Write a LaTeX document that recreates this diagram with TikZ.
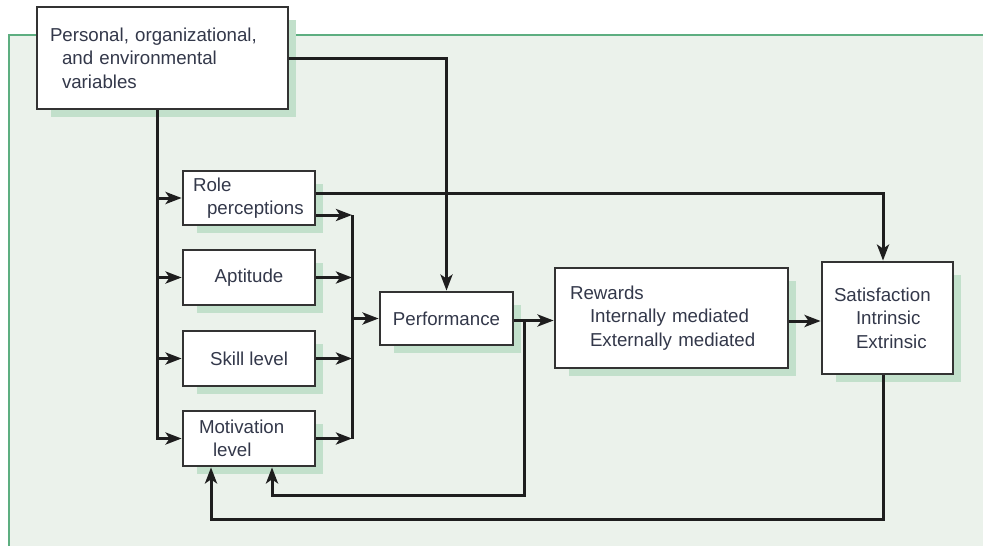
\documentclass[tikz,border=0pt]{standalone}
\usepackage{fontspec}
\setmainfont{Liberation Sans}
\usetikzlibrary{arrows.meta,backgrounds}

\definecolor{panelfill}{HTML}{EBF2EB}
\definecolor{panelline}{HTML}{5DAE80}
\definecolor{shadowc}{HTML}{C2E0CB}
\definecolor{boxline}{HTML}{333333}
\definecolor{wire}{HTML}{1E1E1E}
\definecolor{txt}{HTML}{33384A}

\tikzset{
  blk/.style={draw=boxline, line width=2.8pt, fill=white, inner ysep=0pt,
    text=txt, font=\fontsize{18.7}{23.5}\selectfont},
  leftblk/.style 2 args={blk, minimum width=#1pt, text width=#1pt-2*#2pt,
    inner xsep=#2pt, align=left},
  midblk/.style={blk, inner xsep=0pt, align=center},
  wirel/.style={draw=wire, line width=3pt},
  arr/.style={wirel, -{Stealth[length=16pt,width=12pt,inset=4pt]}},
}

\begin{document}
\begin{tikzpicture}[x=1pt, y=-1pt]
\useasboundingbox (0,0) rectangle (983,546);

% boxes
\node[leftblk={251}{13}, minimum height=102pt] (pv) at (162.5,58)
  {Personal, organizational,\\\hspace*{12pt}and environmental\\\hspace*{12pt}variables};
\node[leftblk={132}{10}, minimum height=54pt] (role) at (249,198)
  {Role\\\hspace*{14pt}perceptions};
\node[midblk, minimum width=132pt, minimum height=55pt] (apt) at (249,277.5) {Aptitude};
\node[midblk, minimum width=132pt, minimum height=55pt] (skill) at (249,358.5) {Skill level};
\node[leftblk={132}{16}, minimum height=55pt] (mot) at (249,438.5)
  {Motivation\\\hspace*{14pt}level};
\node[midblk, minimum width=133pt, minimum height=53pt] (perf) at (446.5,318.5) {Performance};
\node[leftblk={233}{15}, minimum height=100pt] (rew) at (671.5,318)
  {Rewards\\\hspace*{20pt}Internally mediated\\\hspace*{20pt}Externally mediated};
\node[leftblk={131}{12}, minimum height=112pt] (sat) at (887.5,318)
  {Satisfaction\\\hspace*{22pt}Intrinsic\\\hspace*{22pt}Extrinsic};

% routing columns and corners
\coordinate (sx) at (157,0);
\coordinate (cx) at (352,0);
\coordinate (f1) at (524,495);
\coordinate (m1) at (272,495);
\coordinate (f2) at (883,519);
\coordinate (m2) at (211,519);

% background panel and box shadows
\begin{scope}[on background layer]
  \fill[panelfill] (9,35) rectangle (983,546);
  \draw[panelline, line width=2pt] (9,546) -- (9,35) -- (983,35);
  \foreach \n in {pv,role,apt,skill,mot,perf,rew,sat}
    \fill[shadowc] ([shift={(15pt,-7pt)}]\n.south west) rectangle ([shift={(7pt,-14pt)}]\n.north east);
\end{scope}

% variables feed the four determinants
\draw[arr] (pv.south -| sx) |- (mot.west);
\draw[arr] (role.west -| sx) -- (role.west);
\draw[arr] (apt.west -| sx) -- (apt.west);
\draw[arr] (skill.west -| sx) -- (skill.west);

% determinants collect into performance
\draw[wirel] ([yshift=-17pt]role.east -| cx) -- (mot.east -| cx);
\draw[arr] ([yshift=-17pt]role.east) -- ([yshift=-17pt]role.east -| cx);
\draw[arr] (apt.east) -- (apt.east -| cx);
\draw[arr] (skill.east) -- (skill.east -| cx);
\draw[arr] (mot.east) -- (mot.east -| cx);
\draw[arr] (perf.west -| cx) -- (perf.west);

% direct paths
\draw[arr] (pv.east) -| (perf.north);
\draw[arr] ([yshift=5pt]role.east) -| (sat.north -| f2);

% performance to rewards to satisfaction
\draw[arr] ([yshift=-2pt]perf.east) -- ([yshift=-2pt]perf.east -| rew.west);
\draw[arr] ([yshift=-3pt]rew.east) -- ([yshift=-3pt]rew.east -| sat.west);

% feedback loops to motivation
\draw[arr] ([yshift=-2pt]perf.east -| f1) -- (f1) -- (m1) -- (mot.south -| m1);
\draw[arr] (sat.south -| f2) -- (f2) -- (m2) -- (mot.south -| m2);
\end{tikzpicture}
\end{document}
